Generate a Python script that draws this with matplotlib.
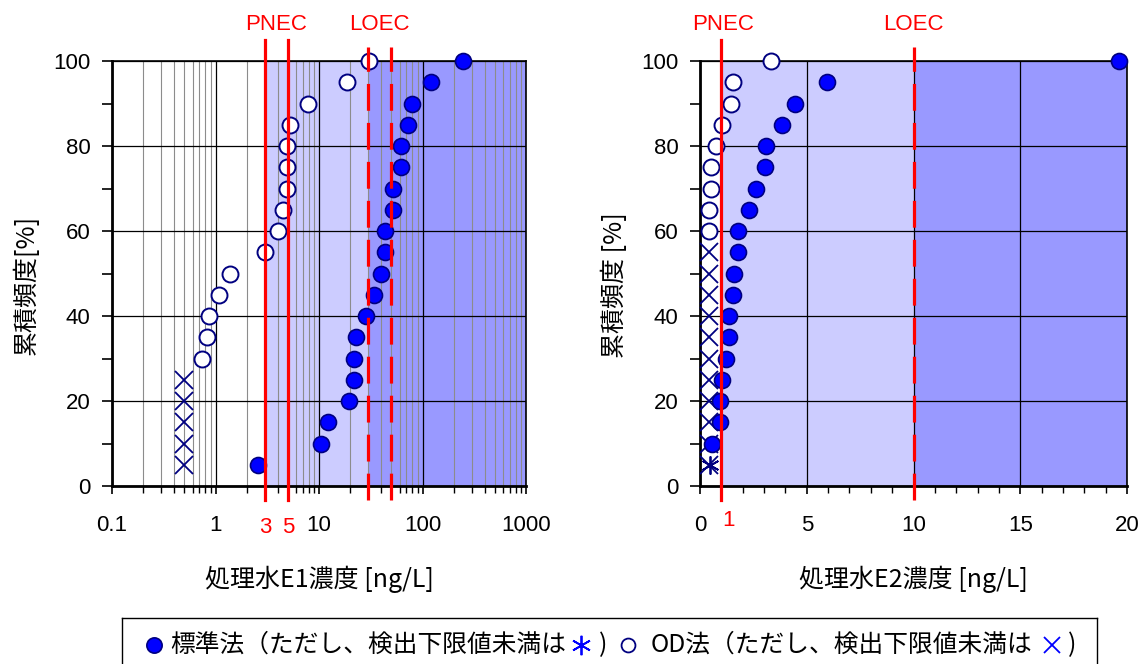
import numpy as np
import matplotlib
matplotlib.use('Agg')
import matplotlib.pyplot as plt
from matplotlib.ticker import FixedLocator, NullFormatter, LogLocator

plt.rcParams['font.family'] = ['Liberation Sans', 'Noto Sans CJK JP', 'DejaVu Sans']
JP = ['Noto Sans CJK JP', 'DejaVu Sans']

# cumulative frequency [%]
freq = [5, 10, 15, 20, 25, 30, 35, 40, 45, 50, 55, 60, 65, 70, 75, 80, 85, 90, 95, 100]

# E1, standard method (all detected)
e1_std = [2.6, 10.4, 12.2, 19.5, 21.9, 21.9, 22.9, 28.2, 34.2, 39.7,
          43.4, 43.4, 52, 52, 61.5, 61.5, 72, 78.6, 121, 245]
# E1, OD method (below detection limit -> crosses)
e1_od_nd_freq = [5, 10, 15, 20, 25]
e1_od_nd = [0.5, 0.5, 0.5, 0.5, 0.5]
e1_od_freq = [30, 35, 40, 45, 50, 55, 60, 65, 70, 75, 80, 85, 90, 95, 100]
e1_od = [0.74, 0.82, 0.86, 1.08, 1.38, 3.04, 4.0, 4.5, 4.9, 4.9, 4.9, 5.3, 7.9, 18.7, 30.1]

# E2, standard method
e2_std_nd_freq = [5]
e2_std_nd = [0.47]
e2_std_freq = [10, 15, 20, 25, 30, 35, 40, 45, 50, 55, 60, 65, 70, 75, 80, 85, 90, 95, 100]
e2_std = [0.58, 0.95, 0.95, 1.03, 1.20, 1.37, 1.37, 1.53, 1.61, 1.78,
          1.78, 2.28, 2.61, 3.03, 3.10, 3.85, 4.43, 5.93, 19.62]
# E2, OD method
e2_od_nd_freq = [5, 10, 15, 20, 25, 30, 35, 40, 45, 50, 55]
e2_od_nd = [0.44] * 11
e2_od_freq = [60, 65, 70, 75, 80, 85, 90, 95, 100]
e2_od = [0.44, 0.44, 0.50, 0.50, 0.76, 1.01, 1.44, 1.53, 3.34]

e1_pnec = [3, 5]
e1_loec = [30, 50]
e2_pnec = [1]
e2_loec = [10]

BLUE = '#0000ff'
NAVY = '#000080'
LIGHT = '#ccccff'
DARK = '#9999ff'
RED = '#ff0000'
DASH = (0, (8.4, 3.8))

W, H = 1143, 664
fig = plt.figure(figsize=(W / 100, H / 100), dpi=100)


def px_axes(x0, x1, y0, y1):
    return fig.add_axes([x0 / W, 1 - y1 / H, (x1 - x0) / W, (y1 - y0) / H])


def ftext(x, y, s, **kw):
    fig.text(x / W, 1 - y / H, s, **kw)


def draw_points(ax, xs_std, f_std, xs_od, f_od, xs_od_nd, f_od_nd, xs_std_nd=None, f_std_nd=None):
    ax.plot(xs_od_nd, f_od_nd, ls='none', marker='x', ms=13, mec=NAVY, mew=1.3, zorder=5, clip_on=False)
    if xs_std_nd is not None:
        ax.plot(xs_std_nd, f_std_nd, ls='none', marker=(6, 2, 0), ms=13, mec=NAVY, mew=1.3, zorder=5, clip_on=False)
    ax.plot(xs_od, f_od, ls='none', marker='o', ms=11.5, mfc='white', mec=NAVY, mew=1.4, zorder=6, clip_on=False)
    ax.plot(xs_std, f_std, ls='none', marker='o', ms=11.5, mfc=BLUE, mec=NAVY, mew=1.2, zorder=6, clip_on=False)


def style_axes(ax):
    ax.set_ylim(0, 100)
    ax.yaxis.set_major_locator(FixedLocator([0, 20, 40, 60, 80, 100]))
    ax.yaxis.set_minor_locator(FixedLocator([10, 30, 50, 70, 90]))
    ax.tick_params(axis='y', which='both', direction='out', length=7, width=1.2, labelsize=16, pad=8.5)
    ax.tick_params(axis='x', which='major', direction='out', length=6, width=1.2, labelsize=16, pad=15)
    ax.tick_params(axis='x', which='minor', direction='out', length=5, width=1.0)
    ax.grid(True, which='major', axis='y', color='black', lw=0.9)
    for s in ax.spines.values():
        s.set_linewidth(1.2)
    ax.spines['left'].set_linewidth(2)
    ax.spines['bottom'].set_linewidth(2)


def draw_limits(ax, pnec, loec):
    for v in pnec:
        ax.axvline(v, ymin=-0.033, ymax=1.05, color=RED, lw=2.3, clip_on=False, zorder=7)
    for v in loec:
        ax.axvline(v, ymin=-0.033, ymax=1.033, color=RED, lw=2.3, ls=DASH, clip_on=False, zorder=7)


# ---- left: E1 (log) ----
ax1 = px_axes(112, 526, 61, 486)
ax1.set_xscale('log')
ax1.set_xlim(0.1, 1000)
ax1.axvspan(e1_pnec[0], e1_loec[0], color=LIGHT, lw=0, zorder=0)
ax1.axvspan(e1_loec[0], 1000, color=DARK, lw=0, zorder=0)
ax1.xaxis.set_minor_locator(LogLocator(base=10, subs=np.arange(2, 10), numticks=100))
ax1.xaxis.set_minor_formatter(NullFormatter())
ax1.set_xticks([0.1, 1, 10, 100, 1000])
ax1.set_xticklabels(['0.1', '1', '10', '100', '1000'])
ax1.grid(True, which='minor', axis='x', color='#8c8c8c', lw=0.8)
ax1.grid(True, which='major', axis='x', color='black', lw=0.9)
style_axes(ax1)
draw_points(ax1, e1_std, freq, e1_od, e1_od_freq, e1_od_nd, e1_od_nd_freq)
draw_limits(ax1, e1_pnec, e1_loec)
ax1.text(np.sqrt(e1_pnec[0] * e1_pnec[1]), 108.5, 'PNEC', color=RED, fontsize=16, ha='center', va='center')
ax1.text(np.sqrt(e1_loec[0] * e1_loec[1]), 108.5, 'LOEC', color=RED, fontsize=16, ha='center', va='center')
for v in e1_pnec:
    ax1.text(v, -9.7, str(v), color=RED, fontsize=16, ha='center', va='center')

# ---- right: E2 (linear) ----
ax2 = px_axes(700, 1127, 61, 486)
ax2.set_xlim(0, 20)
ax2.axvspan(e2_pnec[0], e2_loec[0], color=LIGHT, lw=0, zorder=0)
ax2.axvspan(e2_loec[0], 20, color=DARK, lw=0, zorder=0)
ax2.xaxis.set_major_locator(FixedLocator([0, 5, 10, 15, 20]))
ax2.xaxis.set_minor_locator(FixedLocator(np.arange(0, 21, 1)))
ax2.grid(True, which='major', axis='x', color='black', lw=0.9)
style_axes(ax2)
draw_points(ax2, e2_std, e2_std_freq, e2_od, e2_od_freq, e2_od_nd, e2_od_nd_freq, e2_std_nd, e2_std_nd_freq)
draw_limits(ax2, e2_pnec, e2_loec)
ax2.text(e2_pnec[0] + 0.1, 108.5, 'PNEC', color=RED, fontsize=16, ha='center', va='center')
ax2.text(e2_loec[0], 108.5, 'LOEC', color=RED, fontsize=16, ha='center', va='center')
ax2.text(e2_pnec[0] + 0.35, -8, '1', color=RED, fontsize=16, ha='center', va='center')

# axis labels
ftext(319, 579, '処理水E1濃度 [ng/L]', fontsize=18, family=JP, ha='center', va='center')
ftext(913, 579, '処理水E2濃度 [ng/L]', fontsize=18, family=JP, ha='center', va='center')
ftext(27, 285, '累積頻度[%]', fontsize=18, family=JP, ha='center', va='center', rotation=90)
ftext(615, 285, '累積頻度 [%]', fontsize=18, family=JP, ha='center', va='center', rotation=90)

# ---- legend box (bottom edge runs off the figure) ----
leg = px_axes(122, 1097, 618, 690)
leg.set_xlim(122, 1097)
leg.set_ylim(690, 618)
leg.set_xticks([])
leg.set_yticks([])
for s in leg.spines.values():
    s.set_linewidth(1.0)
yc = 645
leg.plot([154], [yc], marker='o', ms=11, mfc=BLUE, mec=NAVY, mew=1.2, ls='none')
leg.text(170, yc, '標準法（ただし、検出下限値未満は', fontsize=17.8, family=JP, va='center', ha='left')
leg.plot([581], [yc], marker=(6, 2, 0), ms=14, mec=BLUE, mew=1.3, ls='none')
leg.text(603, yc, ')', fontsize=17.8, family=JP, va='center', ha='center')
leg.plot([628], [yc], marker='o', ms=10, mfc='white', mec=NAVY, mew=1.3, ls='none')
leg.text(651, yc, 'OD法（ただし、検出下限値未満は', fontsize=17.8, family=JP, va='center', ha='left')
leg.plot([1052], [yc], marker='x', ms=11, mec=BLUE, mew=1.3, ls='none')
leg.text(1072, yc, ')', fontsize=17.8, family=JP, va='center', ha='center')

fig.savefig('out.png', dpi=100)
